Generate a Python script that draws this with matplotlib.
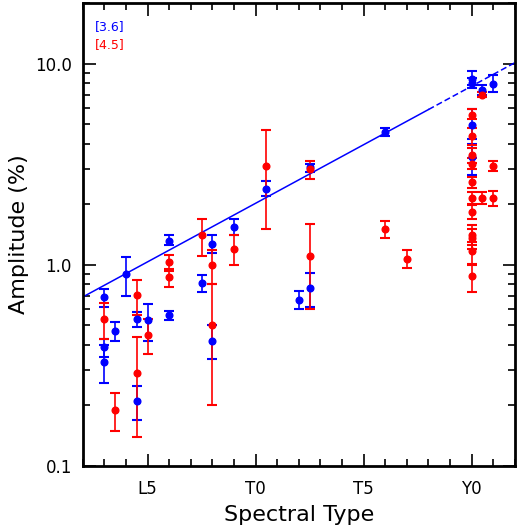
import numpy as np
import matplotlib
matplotlib.use("Agg")
import matplotlib.pyplot as plt
from matplotlib.ticker import FixedLocator, FuncFormatter, LogLocator, NullFormatter

# Spectral type numeric code: L0=10, T0=20, Y0=30
tick_pos = [15, 20, 25, 30]
tick_labels = ["L5", "T0", "T5", "Y0"]

# [3.6] channel (blue)
x36 = [13, 13, 13, 13.5, 14, 14.5, 14.5, 15, 16, 16, 17.5, 18, 18, 19, 20.5,
       22, 22.5, 22.5, 26, 30, 30, 30, 30, 30.5, 31]
a36 = [0.69, 0.39, 0.33, 0.47, 0.90, 0.54, 0.21, 0.53, 1.32, 0.56, 0.81, 1.27, 0.42,
       1.54, 2.39, 0.67, 3.05, 0.77, 4.57, 8.36, 8.04, 4.97, 3.43, 7.36, 7.95]
lo36 = [0.62, 0.35, 0.26, 0.418, 0.70, 0.49, 0.17, 0.42, 1.26, 0.53, 0.73, 1.14, 0.34,
        1.40, 2.19, 0.60, 2.89, 0.62, 4.38, 7.8, 7.6, 4.2, 2.80, 6.96, 7.2]
hi36 = [0.76, 0.43, 0.40, 0.518, 1.09, 0.585, 0.25, 0.635, 1.40, 0.588, 0.885, 1.40, 0.50,
        1.68, 2.60, 0.737, 3.18, 0.915, 4.78, 9.17, 8.5, 5.92, 4.0, 7.86, 8.76]

# [4.5] channel (red)
x45 = [13, 13.5, 14.5, 14.5, 15, 16, 16, 17.5, 18, 18, 19, 20.5, 22.5, 22.5, 26, 27,
       30, 30, 30, 30, 30, 30, 30, 30, 30, 30, 30, 30.5, 30.5, 31, 31]
a45 = [0.54, 0.19, 0.71, 0.29, 0.45, 1.03, 0.87, 1.40, 1.0, 0.50, 1.20, 3.09, 3.0, 1.10,
       1.50, 1.07, 5.57, 4.36, 3.50, 3.18, 2.58, 2.14, 1.84, 1.40, 1.36, 1.165, 0.877,
       7.01, 2.14, 3.10, 2.14]
lo45 = [0.43, 0.15, 0.56, 0.14, 0.36, 0.93, 0.78, 1.10, 0.80, 0.20, 1.0, 1.50, 2.68, 0.60,
        1.36, 0.966, 5.28, 3.96, 3.20, 3.0, 2.42, 2.0, 1.69, 1.25, 1.20, 1.0, 0.73,
        6.8, 2.0, 2.93, 1.97]
hi45 = [0.644, 0.23, 0.845, 0.44, 0.54, 1.125, 0.955, 1.69, 1.19, 0.80, 1.40, 4.65, 3.28, 1.59,
        1.66, 1.18, 5.92, 4.8, 3.8, 3.4, 2.73, 2.3, 1.99, 1.58, 1.5, 1.3, 1.01,
        7.2, 2.3, 3.28, 2.32]

# Fit line: log10(A) = fit_a + fit_b * SpT
fit_a = -0.858
fit_b = 0.0582
fit_solid = [12, 28]
fit_dashed = [28, 32]

fig = plt.figure(figsize=(5.18, 5.27), dpi=100)
ax = fig.add_axes([0.160, 0.1157, 0.834, 0.8786])

def yerr(a, lo, hi):
    a = np.array(a); lo = np.array(lo); hi = np.array(hi)
    return [a - lo, hi - a]

ekw = dict(fmt="o", markersize=4.8, capsize=3.5, elinewidth=1.2, capthick=1.5, linestyle="none")
ax.errorbar(x36, a36, yerr=yerr(a36, lo36, hi36), color="#0000ff", **ekw)
ax.errorbar(x45, a45, yerr=yerr(a45, lo45, hi45), color="#ff0000", **ekw)

xs = np.array(fit_solid, dtype=float)
ax.plot(xs, 10 ** (fit_a + fit_b * xs), color="#0000ff", lw=1.1)
xd = np.array(fit_dashed, dtype=float)
ax.plot(xd, 10 ** (fit_a + fit_b * xd), color="#0000ff", lw=1.1, ls=(0, (4, 2)))

ax.set_yscale("log")
ax.set_xlim(12, 32)
ax.set_ylim(0.1, 20)

ax.xaxis.set_major_locator(FixedLocator(tick_pos))
ax.set_xticklabels(tick_labels)
ax.xaxis.set_minor_locator(FixedLocator(np.arange(12, 33, 1)))
ax.yaxis.set_major_locator(FixedLocator([0.1, 1.0, 10.0]))
ax.yaxis.set_major_formatter(FuncFormatter(lambda v, p: "%.1f" % v))
ax.yaxis.set_minor_locator(LogLocator(base=10, subs=np.arange(2, 10)))
ax.yaxis.set_minor_formatter(NullFormatter())

ax.tick_params(which="both", direction="in", top=True, right=True, width=1.2)
ax.tick_params(which="major", length=9, labelsize=12, pad=8)
ax.tick_params(axis="x", which="major", pad=10)
ax.tick_params(which="minor", length=5)
for s in ax.spines.values():
    s.set_linewidth(2)

ax.set_xlabel("Spectral Type", fontsize=16, labelpad=5)
ax.set_ylabel("Amplitude (%)", fontsize=16, labelpad=4)

ax.text(0.028, 0.950, "[3.6]", color="#0000ff", fontsize=9, transform=ax.transAxes,
        ha="left", va="center")
ax.text(0.028, 0.911, "[4.5]", color="#ff0000", fontsize=9, transform=ax.transAxes,
        ha="left", va="center")

fig.savefig("out.png", dpi=100)
